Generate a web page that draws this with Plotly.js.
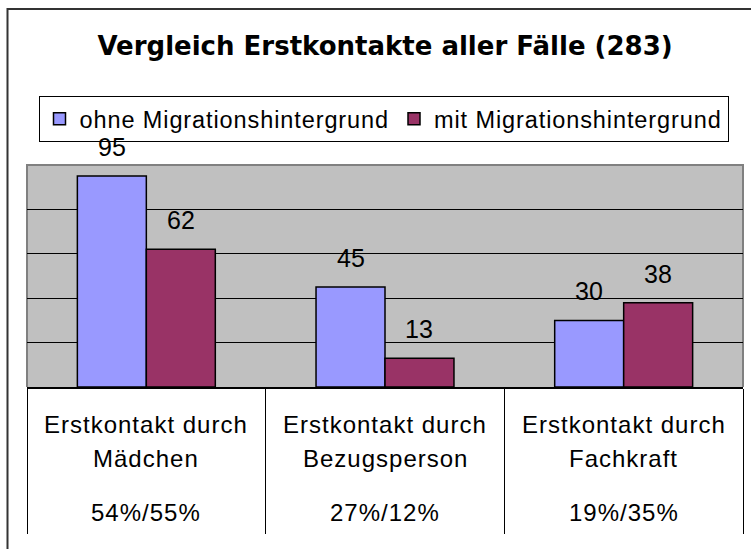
<!DOCTYPE html>
<html>
<head>
<meta charset="utf-8">
<script src="https://cdn.plot.ly/plotly-3.0.1.min.js"></script>
<style>
html, body { margin: 0; padding: 0; background: #fff; }
#chart { width: 751px; height: 549px; }
</style>
</head>
<body>
<div id="chart"></div>
<script>
// ---- data ----
const categories = ['Erstkontakt durch Mädchen', 'Erstkontakt durch Bezugsperson', 'Erstkontakt durch Fachkraft'];
const labelLine1 = ['Erstkontakt durch', 'Erstkontakt durch', 'Erstkontakt durch'];
const labelLine2 = ['Mädchen', 'Bezugsperson', 'Fachkraft'];
const shares = ['54%/55%', '27%/12%', '19%/35%'];
const seriesNames = ['ohne Migrationshintergrund', 'mit Migrationshintergrund'];
const ohne = [95, 45, 30];
const mit = [62, 13, 38];
const chartTitle = 'Vergleich Erstkontakte aller Fälle (283)';

// ---- style ----
const FONT = 'Liberation Sans, Arial, Helvetica, sans-serif';
const TITLE_FONT = 'DejaVu Sans, Verdana, sans-serif';
const BARGAP = 0.422;
const barW = (1 - BARGAP) / 2;
const spaced = (t, px) => '<span style="letter-spacing:' + px + 'px">' + t + '</span>';

const series = [ohne, mit];
const colors = ['#9999FF', '#993366'];

const traces = series.map((vals, i) => ({
  type: 'bar',
  name: spaced(seriesNames[i], 0.9),
  x: categories,
  y: vals,
  marker: { color: colors[i], line: { color: '#000', width: 1.5 } },
  hoverinfo: 'skip'
}));

const annotations = [];
// value labels above bars
series.forEach((vals, s) => {
  const off = (s - 0.5) * barW;
  vals.forEach((v, c) => {
    annotations.push({
      xref: 'x', yref: 'y', x: c + off, y: v,
      text: String(v), showarrow: false,
      yanchor: 'middle', xanchor: 'center', yshift: 29,
      font: { family: FONT, size: 25, color: '#000' }
    });
  });
});
// category labels (three rows)
categories.forEach((cat, c) => {
  [[labelLine1[c], -37], [labelLine2[c], -71], [shares[c], -125.5]].forEach(([t, sh]) => {
    annotations.push({
      xref: 'x', yref: 'paper', x: c, y: 0,
      text: spaced(t, 1), showarrow: false,
      yanchor: 'middle', xanchor: 'center', yshift: sh,
      font: { family: FONT, size: 24, color: '#000' }
    });
  });
});

const layout = {
  width: 751, height: 549,
  margin: { l: 27, r: 8, t: 165, b: 162, pad: 0 },
  paper_bgcolor: '#fff',
  plot_bgcolor: '#C0C0C0',
  showlegend: true,
  barmode: 'group',
  bargap: BARGAP,
  bargroupgap: 0,
  title: {
    text: chartTitle,
    x: 0.5, xref: 'paper', xanchor: 'center',
    y: 1 - 46 / 549, yref: 'container', yanchor: 'middle',
    font: { family: TITLE_FONT, size: 26, weight: 'bold', color: '#000' }
  },
  legend: {
    orientation: 'h',
    x: (383.5 - 27) / 716, xanchor: 'center',
    y: (387 - 96) / 222, yanchor: 'top',
    bgcolor: '#fff', bordercolor: '#000', borderwidth: 1,
    font: { family: FONT, size: 23.5, color: '#000' },
    itemwidth: 30
  },
  xaxis: {
    type: 'category',
    showticklabels: false,
    ticks: 'outside', tickson: 'boundaries', ticklen: 145, tickcolor: '#000', tickwidth: 1,
    showline: true, linecolor: '#000', linewidth: 1.5,
    showgrid: false, zeroline: false, fixedrange: true
  },
  yaxis: {
    range: [0, 100],
    tickmode: 'array', tickvals: [20, 40, 60, 80],
    showticklabels: false, ticks: '',
    showgrid: true, gridcolor: '#000', gridwidth: 1,
    zeroline: false, showline: false, fixedrange: true
  },
  shapes: [
    // plot-area frame (left, top, right) in grey
    { type: 'path', xref: 'paper', yref: 'paper', layer: 'below',
      path: 'M 0,0 L 0,1 L 1,1 L 1,0',
      line: { color: '#808080', width: 2 } },
    // outer chart frame (left and top edges visible; others run off the page)
    { type: 'path', xref: 'paper', yref: 'paper', layer: 'below',
      path: 'M ' + ((7.5 - 27) / 716) + ',-3 L ' + ((7.5 - 27) / 716) + ',' + ((387 - 9) / 222) + ' L 3,' + ((387 - 9) / 222),
      line: { color: '#333', width: 2 } }
  ],
  annotations: annotations
};

Plotly.newPlot('chart', traces, layout, { displayModeBar: false, staticPlot: true });
</script>
</body>
</html>
